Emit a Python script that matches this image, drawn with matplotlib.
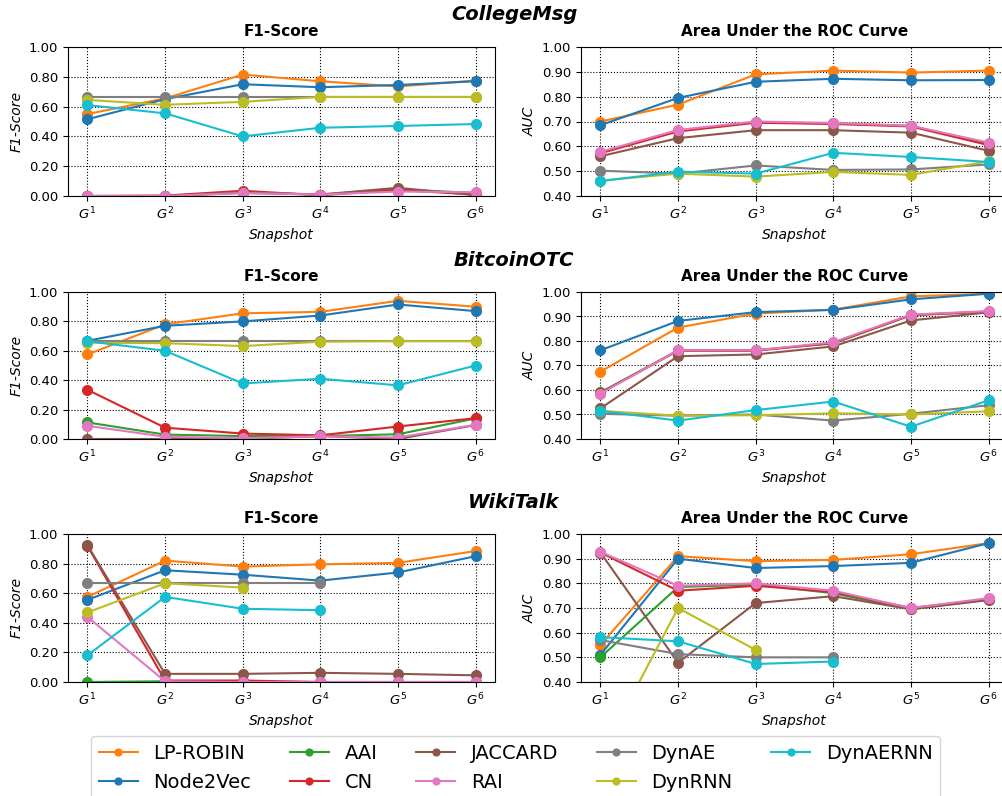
import numpy as np
import matplotlib
matplotlib.use("Agg")
import matplotlib.pyplot as plt
from matplotlib.ticker import FormatStrFormatter

nan = np.nan

methods = ["LP-ROBIN", "Node2Vec", "AAI", "CN", "JACCARD", "RAI", "DynAE", "DynRNN", "DynAERNN"]
colors = ["tab:orange", "tab:blue", "tab:green", "tab:red", "tab:brown",
          "tab:pink", "tab:gray", "tab:olive", "tab:cyan"]
snapshots = ["$G^1$", "$G^2$", "$G^3$", "$G^4$", "$G^5$", "$G^6$"]
datasets = ["CollegeMsg", "BitcoinOTC", "WikiTalk"]

# CollegeMsg
college_f1 = [
    [0.55, 0.655, 0.815, 0.77, 0.735, 0.775],
    [0.515, 0.65, 0.75, 0.73, 0.745, 0.77],
    [0.0, 0.0, 0.02, 0.01, 0.045, 0.02],
    [0.0, 0.003, 0.035, 0.005, 0.04, 0.01],
    [0.0, 0.0, 0.025, 0.01, 0.055, 0.005],
    [0.0, 0.0, 0.02, 0.01, 0.03, 0.025],
    [0.667, 0.667, 0.667, 0.667, 0.667, 0.667],
    [0.645, 0.612, 0.632, 0.665, 0.665, 0.665],
    [0.61, 0.555, 0.40, 0.458, 0.47, 0.483],
]
college_auc = [
    [0.70, 0.768, 0.89, 0.905, 0.897, 0.905],
    [0.685, 0.795, 0.86, 0.872, 0.866, 0.867],
    [0.575, 0.663, 0.697, 0.692, 0.682, 0.61],
    [0.572, 0.66, 0.695, 0.69, 0.68, 0.605],
    [0.56, 0.633, 0.665, 0.665, 0.655, 0.582],
    [0.578, 0.666, 0.70, 0.694, 0.683, 0.615],
    [0.502, 0.49, 0.523, 0.505, 0.507, 0.527],
    [0.462, 0.49, 0.478, 0.497, 0.485, 0.54],
    [0.46, 0.498, 0.49, 0.574, 0.557, 0.537],
]

# BitcoinOTC
bitcoin_f1 = [
    [0.575, 0.78, 0.855, 0.865, 0.94, 0.90],
    [0.668, 0.77, 0.80, 0.84, 0.915, 0.87],
    [0.113, 0.03, 0.02, 0.02, 0.032, 0.14],
    [0.335, 0.077, 0.037, 0.025, 0.085, 0.142],
    [0.0, 0.0, 0.0, 0.02, 0.0, 0.095],
    [0.09, 0.015, 0.005, 0.018, 0.01, 0.097],
    [0.667, 0.667, 0.667, 0.667, 0.667, 0.667],
    [0.655, 0.652, 0.632, 0.662, 0.665, 0.665],
    [0.665, 0.60, 0.378, 0.41, 0.365, 0.50],
]
bitcoin_auc = [
    [0.675, 0.855, 0.912, 0.928, 0.982, 0.993],
    [0.762, 0.882, 0.918, 0.927, 0.97, 0.993],
    [0.59, 0.762, 0.763, 0.79, 0.905, 0.92],
    [0.588, 0.76, 0.76, 0.792, 0.906, 0.92],
    [0.525, 0.738, 0.745, 0.778, 0.884, 0.917],
    [0.585, 0.762, 0.762, 0.795, 0.908, 0.922],
    [0.503, 0.495, 0.50, 0.475, 0.503, 0.538],
    [0.515, 0.495, 0.497, 0.505, 0.50, 0.513],
    [0.515, 0.475, 0.518, 0.553, 0.45, 0.558],
]

# WikiTalk
wiki_f1 = [
    [0.575, 0.82, 0.78, 0.795, 0.805, 0.885],
    [0.555, 0.755, 0.725, 0.685, 0.74, 0.85],
    [0.0, 0.005, 0.0, 0.0, 0.0, 0.0],
    [0.92, 0.01, 0.01, 0.0, 0.0, 0.0],
    [0.925, 0.055, 0.055, 0.062, 0.055, 0.045],
    [0.44, 0.005, 0.0, 0.0, 0.0, 0.0],
    [0.667, 0.667, 0.667, 0.667, nan, nan],
    [0.47, 0.667, 0.638, nan, nan, nan],
    [0.18, 0.575, 0.495, 0.485, nan, nan],
]
wiki_auc = [
    [0.55, 0.91, 0.89, 0.895, 0.918, 0.963],
    [0.51, 0.90, 0.862, 0.87, 0.883, 0.963],
    [0.50, 0.785, 0.795, 0.76, 0.695, 0.735],
    [0.925, 0.77, 0.79, 0.765, 0.70, 0.735],
    [0.925, 0.478, 0.72, 0.748, 0.695, 0.732],
    [0.928, 0.79, 0.80, 0.77, 0.70, 0.74],
    [0.57, 0.513, 0.50, 0.50, nan, nan],
    [0.10, 0.70, 0.53, nan, nan, nan],
    [0.582, 0.565, 0.473, 0.483, nan, nan],
]

f1_data = [college_f1, bitcoin_f1, wiki_f1]
auc_data = [college_auc, bitcoin_auc, wiki_auc]

fig = plt.figure(figsize=(10.02, 7.96), dpi=100)

W, H = 1002.0, 796.0
row_tops = [47, 292, 534]
row_bots = [196, 439, 682]
title_y = [15, 260, 503]
x = np.arange(len(snapshots))

for r in range(3):
    b = 1 - row_bots[r] / H
    h = (row_bots[r] - row_tops[r]) / H
    ax1 = fig.add_axes([68 / W, b, 427 / W, h])
    ax2 = fig.add_axes([581 / W, b, 427 / W, h])
    for ax, data, ylab, title, ylim, yt in [
        (ax1, f1_data[r], "F1-Score", "F1-Score", (0, 1), np.arange(0, 1.01, 0.2)),
        (ax2, auc_data[r], "AUC", "Area Under the ROC Curve", (0.4, 1), np.arange(0.4, 1.01, 0.1)),
    ]:
        for i, m in enumerate(methods):
            ax.plot(x, data[i], "-o", color=colors[i], lw=1.5, ms=7, label=m)
        ax.set_xlim(-0.25, 5.25)
        ax.set_ylim(*ylim)
        ax.set_yticks(yt)
        ax.yaxis.set_major_formatter(FormatStrFormatter("%.2f"))
        ax.set_xticks(x)
        ax.set_xticklabels(snapshots)
        ax.tick_params(labelsize=9.5)
        ax.grid(True, linestyle=":", color="k", lw=0.8)
        ax.set_ylabel(ylab, fontsize=10, style="italic")
        ax.set_xlabel("Snapshot", fontsize=10, style="italic")
        ax.set_title(title, fontsize=11, fontweight="bold", pad=8)
    fig.text(0.513, 1 - title_y[r] / H, datasets[r], fontsize=14,
             fontweight="bold", style="italic", ha="center", va="center")

handles, labels = ax1.get_legend_handles_labels()
fig.legend(handles, labels, loc="upper left", bbox_to_anchor=(91 / W, 1 - 736 / H),
           ncol=5, fontsize=14, markerscale=0.7, borderaxespad=0)

fig.savefig("out.png", dpi=100)
